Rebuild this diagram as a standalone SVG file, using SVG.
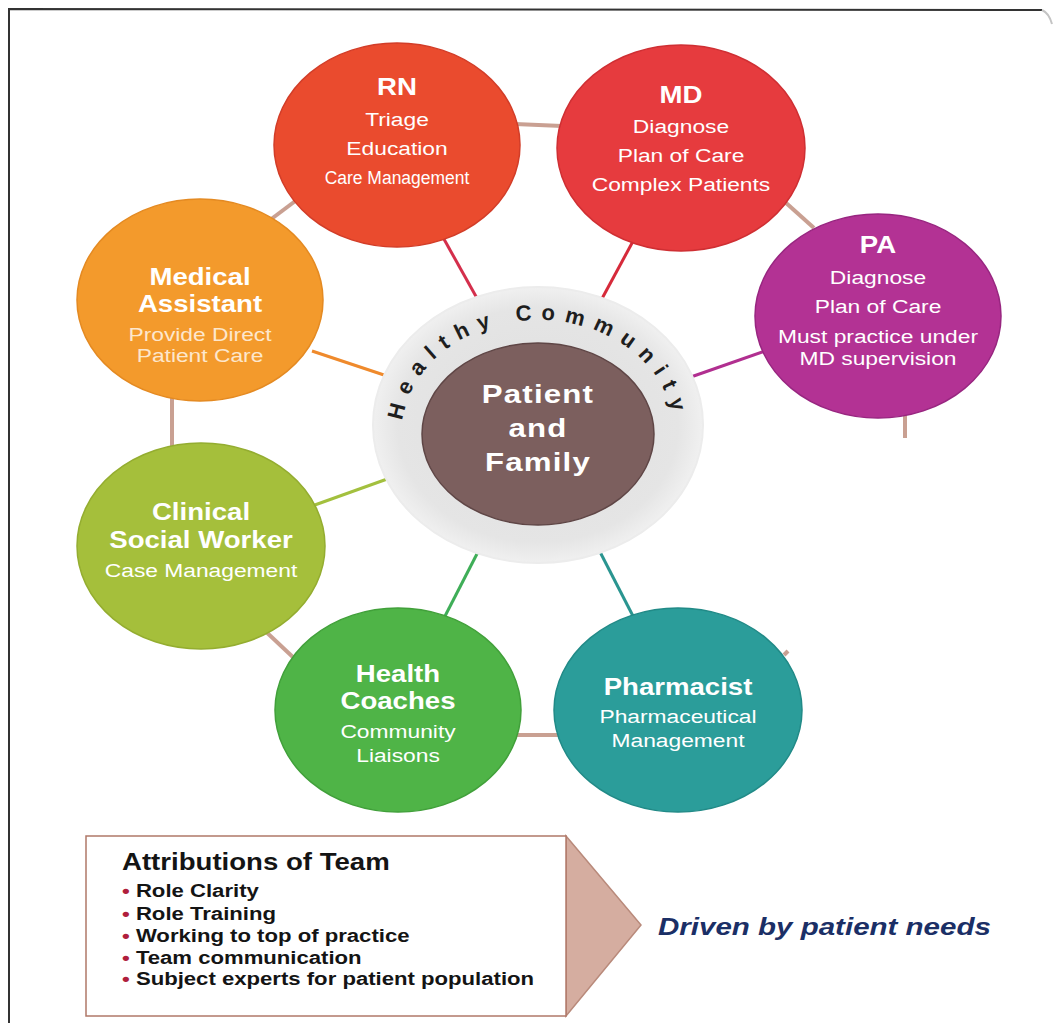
<svg xmlns="http://www.w3.org/2000/svg" width="1053" height="1023" viewBox="0 0 1053 1023">
<style>
  .t { font-family: "Liberation Sans", Arial, sans-serif; fill: #ffffff; text-anchor: middle; }
  .ti { font-size: 23px; font-weight: bold; }
  .sub { font-size: 19px; }
  .node { stroke-width: 1.5; }
  .link { stroke: #c9a092; stroke-width: 4; fill: none; }
  .spoke { stroke-width: 3; fill: none; }
  .blk { font-family: "Liberation Sans", Arial, sans-serif; fill: #141414; font-weight: bold; }
  .dot { fill: #b01e3c; }
  .arc { font-family: "Liberation Sans", Arial, sans-serif; font-size: 22px; font-weight: bold; fill: #1e1e1e; letter-spacing: 9.5px; }
</style>
<defs>
  <radialGradient id="ring" cx="50%" cy="50%" r="50%">
    <stop offset="0%" stop-color="#dedede"/>
    <stop offset="85%" stop-color="#e5e5e5"/>
    <stop offset="100%" stop-color="#f0f0f0"/>
  </radialGradient>
  <path id="arc" d="M 402 432 A 136 112 0 0 1 674 432"/>
</defs>
<rect width="1053" height="1023" fill="#ffffff"/>
<g id="frame" stroke="#333333" stroke-width="2" fill="none">
  <path d="M 9 1023 L 9 9 L 1042 10"/>
  <path d="M 1042 10 Q 1049 13 1052 24" stroke="#c4c4c4" stroke-width="2"/>
</g>
<g id="connectors">
  <line class="link" x1="515" y1="124" x2="562" y2="126"/>
  <line class="link" x1="785" y1="202" x2="814" y2="228"/>
  <line class="link" x1="905" y1="412" x2="905" y2="438" stroke="#a9877a"/>
  <line class="link" x1="262" y1="226" x2="302" y2="196" stroke="#b9a59c"/>
  <line class="link" x1="172" y1="395" x2="172" y2="450"/>
  <line class="link" x1="262" y1="628" x2="296" y2="660"/>
  <line class="link" x1="515" y1="735" x2="562" y2="735"/>
  <line class="link" x1="784" y1="655" x2="788" y2="651"/>
  <line class="spoke" stroke="#d42f4c" x1="440" y1="232" x2="478" y2="300"/>
  <line class="spoke" stroke="#d62a3a" x1="638" y1="232" x2="598" y2="306"/>
  <line class="spoke" stroke="#b12f90" x1="688" y1="378" x2="768" y2="350"/>
  <line class="spoke" stroke="#ef8a2c" x1="312" y1="351" x2="390" y2="377"/>
  <line class="spoke" stroke="#a3c03e" x1="312" y1="506" x2="390" y2="478"/>
  <line class="spoke" stroke="#3fae58" x1="443" y1="620" x2="480" y2="548"/>
  <line class="spoke" stroke="#2a9590" x1="634" y1="618" x2="598" y2="548"/>
</g>
<g id="center">
  <ellipse cx="538" cy="425" rx="165" ry="138" fill="url(#ring)" stroke="#ececec" stroke-width="2"/>
  <ellipse cx="538" cy="434" rx="116" ry="91" fill="#7c5f5e" stroke="#5f4646" stroke-width="1.5"/>
  <text class="arc"><textPath href="#arc" startOffset="11.2">Heal</textPath></text>
  <text class="arc"><textPath href="#arc" startOffset="95.7">thy</textPath></text>
  <text class="arc"><textPath href="#arc" startOffset="172.8">Comm</textPath></text>
  <text class="arc"><textPath href="#arc" startOffset="279.2">unity</textPath></text>
  <g transform="translate(538 0) scale(1.2 1)">
    <text class="t" font-size="26" font-weight="bold" letter-spacing="1" y="403">Patient</text>
    <text class="t" font-size="26" font-weight="bold" letter-spacing="1" y="437">and</text>
    <text class="t" font-size="26" font-weight="bold" letter-spacing="1" y="471">Family</text>
  </g>
</g>
<g id="rn">
  <ellipse class="node" cx="397" cy="145" rx="123" ry="102" fill="#ea4b2e" stroke="#d23d28"/>
  <g transform="translate(397 0) scale(1.2 1)">
    <text class="t ti" y="95">RN</text>
    <text class="t sub" y="126">Triage</text>
    <text class="t sub" y="155">Education</text>
  </g>
  <g transform="translate(397 0) scale(0.92 1)">
    <text class="t sub" y="184">Care Management</text>
  </g>
</g>
<g id="md">
  <ellipse class="node" cx="681" cy="148" rx="124" ry="103" fill="#e63b3e" stroke="#cf2f33"/>
  <g transform="translate(681 0) scale(1.2 1)">
    <text class="t ti" y="103">MD</text>
    <text class="t sub" y="133">Diagnose</text>
    <text class="t sub" y="162">Plan of Care</text>
    <text class="t sub" y="191">Complex Patients</text>
  </g>
</g>
<g id="pa">
  <ellipse class="node" cx="878" cy="316" rx="123" ry="102" fill="#b33294" stroke="#982680"/>
  <g transform="translate(878 0) scale(1.2 1)">
    <text class="t ti" y="253">PA</text>
    <text class="t sub" y="284">Diagnose</text>
    <text class="t sub" y="313">Plan of Care</text>
    <text class="t sub" y="343">Must practice under</text>
    <text class="t sub" y="365">MD supervision</text>
  </g>
</g>
<g id="medical-assistant">
  <ellipse class="node" cx="200" cy="300" rx="123" ry="101" fill="#f39a2c" stroke="#e48a22"/>
  <g transform="translate(200 0) scale(1.2 1)">
    <text class="t ti" y="285">Medical</text>
    <text class="t ti" y="312">Assistant</text>
    <text class="t sub" y="341" style="fill:#fde7cc">Provide Direct</text>
    <text class="t sub" y="362" style="fill:#fde7cc">Patient Care</text>
  </g>
</g>
<g id="clinical-social-worker">
  <ellipse class="node" cx="201" cy="546" rx="124" ry="103" fill="#a5bf3b" stroke="#94ad30"/>
  <g transform="translate(201 0) scale(1.2 1)">
    <text class="t ti" y="520">Clinical</text>
    <text class="t ti" y="548">Social Worker</text>
    <text class="t sub" y="577">Case Management</text>
  </g>
</g>
<g id="health-coaches">
  <ellipse class="node" cx="398" cy="710" rx="123" ry="102" fill="#4fb447" stroke="#41a03a"/>
  <g transform="translate(398 0) scale(1.2 1)">
    <text class="t ti" y="682">Health</text>
    <text class="t ti" y="709">Coaches</text>
    <text class="t sub" y="738">Community</text>
    <text class="t sub" y="762">Liaisons</text>
  </g>
</g>
<g id="pharmacist">
  <ellipse class="node" cx="678" cy="710" rx="124" ry="102" fill="#2b9d9a" stroke="#218a87"/>
  <g transform="translate(678 0) scale(1.2 1)">
    <text class="t ti" y="695">Pharmacist</text>
    <text class="t sub" y="723">Pharmaceutical</text>
    <text class="t sub" y="747">Management</text>
  </g>
</g>
<g id="attributions">
  <polygon points="566,836 641,925 566,1016" fill="#d5ada0" stroke="#b98a7b" stroke-width="1.5"/>
  <rect x="86" y="836" width="480" height="180" fill="#ffffff" stroke="#b07868" stroke-width="1.5"/>
  <g transform="translate(122 0) scale(1.2 1)">
    <text class="blk" font-size="23" y="870">Attributions of Team</text>
  </g>
  <g transform="translate(122 0) scale(1.23 1)">
    <text class="blk" font-size="18" y="897"><tspan class="dot">•</tspan> Role Clarity</text>
    <text class="blk" font-size="18" y="920"><tspan class="dot">•</tspan> Role Training</text>
    <text class="blk" font-size="18" y="942"><tspan class="dot">•</tspan> Working to top of practice</text>
    <text class="blk" font-size="18" y="964"><tspan class="dot">•</tspan> Team communication</text>
    <text class="blk" font-size="18" y="985"><tspan class="dot">•</tspan> Subject experts for patient population</text>
  </g>
</g>
<g id="driven">
  <g transform="translate(658 0) scale(1.23 1)">
    <text font-family="Liberation Sans, Arial, sans-serif" font-size="24" font-weight="bold" font-style="italic" fill="#1b2f66" y="935">Driven by patient needs</text>
  </g>
</g>
</svg>
